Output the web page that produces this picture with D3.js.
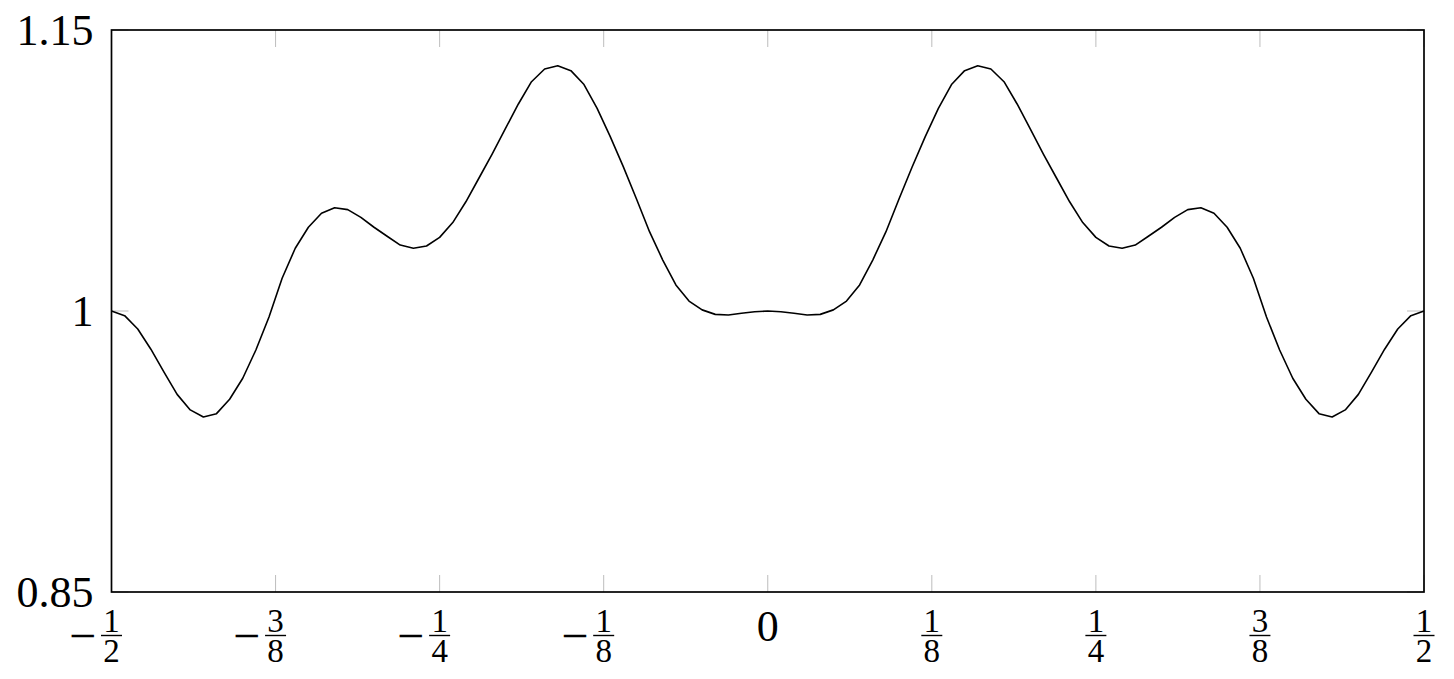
<!DOCTYPE html>
<html>
<head>
<meta charset="utf-8">
<script src="https://cdn.jsdelivr.net/npm/d3@7"></script>
<style>
body { margin: 0; background: #fff; }
text { font-family: "Liberation Serif", "DejaVu Serif", serif; fill: #000; }
</style>
</head>
<body>
<svg id="chart" width="1454" height="679"></svg>
<script>
// sample points (step 1/100)
xValues = [-0.50, -0.49, -0.48, -0.47, -0.46, -0.45, -0.44, -0.43, -0.42, -0.41,
	-0.40, -0.39, -0.38, -0.37, -0.36, -0.35, -0.34, -0.33, -0.32, -0.31,
	-0.30, -0.29, -0.28, -0.27, -0.26, -0.25, -0.24, -0.23, -0.22, -0.21,
	-0.20, -0.19, -0.18, -0.17, -0.16, -0.15, -0.14, -0.13, -0.12, -0.11,
	-0.10, -0.09, -0.08, -0.07, -0.06, -0.05, -0.04, -0.03, -0.02, -0.01,
	0.00, 0.01, 0.02, 0.03, 0.04, 0.05, 0.06, 0.07, 0.08, 0.09,
	0.10, 0.11, 0.12, 0.13, 0.14, 0.15, 0.16, 0.17, 0.18, 0.19,
	0.20, 0.21, 0.22, 0.23, 0.24, 0.25, 0.26, 0.27, 0.28, 0.29,
	0.30, 0.31, 0.32, 0.33, 0.34, 0.35, 0.36, 0.37, 0.38, 0.39,
	0.40, 0.41, 0.42, 0.43, 0.44, 0.45, 0.46, 0.47, 0.48, 0.49, 0.50]

yValues = [1.0000, 0.9975, 0.9904, 0.9796, 0.9674, 0.9555, 0.9472, 0.9434, 0.9452, 0.9529,
	0.9641, 0.9792, 0.9968, 1.0175, 1.0335, 1.0447, 1.0522, 1.0551, 1.0541, 1.0500,
	1.0447, 1.0399, 1.0352, 1.0335, 1.0347, 1.0393, 1.0472, 1.0583, 1.0710, 1.0838,
	1.0972, 1.1105, 1.1224, 1.1292, 1.1309, 1.1283, 1.1209, 1.1082, 1.0931, 1.0769,
	1.0598, 1.0422, 1.0272, 1.0139, 1.0053, 1.0006, 0.9982, 0.9979, 0.9988, 0.9996,
	1.0000,
	0.9996, 0.9988, 0.9979, 0.9982, 1.0006, 1.0053, 1.0139, 1.0272, 1.0422, 1.0598,
	1.0769, 1.0931, 1.1082, 1.1209, 1.1283, 1.1309, 1.1292, 1.1224, 1.1105, 1.0972,
	1.0838, 1.0710, 1.0583, 1.0472, 1.0393, 1.0347, 1.0335, 1.0352, 1.0399, 1.0447,
	1.0500, 1.0541, 1.0551, 1.0522, 1.0447, 1.0335, 1.0175, 0.9968, 0.9792, 0.9641,
	0.9529, 0.9452, 0.9434, 0.9472, 0.9555, 0.9674, 0.9796, 0.9904, 0.9975, 1.0000]

xTicks = [-0.5, -0.375, -0.25, -0.125, 0, 0.125, 0.25, 0.375, 0.5]
// [sign, numerator, denominator] ; null numerator means plain "0"
xTickLabels = [['−', '1', '2'], ['−', '3', '8'], ['−', '1', '4'], ['−', '1', '8'],
	['', null, '0'], ['', '1', '8'], ['', '1', '4'], ['', '3', '8'], ['', '1', '2']]
yTicks = [0.85, 1, 1.15]
yTickLabels = ['0.85', '1', '1.15']

// note: "top" is taken by window.top, so prefix everything
plotLeft = 111.5
plotRight = 1424
plotTop = 30
plotBottom = 592

svg = d3.select('#chart')

xScale = d3.scaleLinear().domain([-0.5, 0.5]).range([plotLeft, plotRight])
yScale = d3.scaleLinear().domain([0.85, 1.15]).range([plotBottom, plotTop])

data = xValues.map((x, i) => ({ x: x, y: yValues[i] }))

tickColor = '#bdbdbd'
tickLen = 17

// grey inner ticks, bottom/top/left/right
ticks = svg.append('g').attr('class', 'ticks')
ticks.selectAll('.xb')
	.data(xTicks)
	.enter()
	.append('line')
	.attr('x1', d => xScale(d)).attr('x2', d => xScale(d))
	.attr('y1', plotBottom).attr('y2', plotBottom - tickLen)
	.style('stroke', tickColor).attr('stroke-width', 1)
ticks.selectAll('.xt')
	.data(xTicks)
	.enter()
	.append('line')
	.attr('x1', d => xScale(d)).attr('x2', d => xScale(d))
	.attr('y1', plotTop).attr('y2', plotTop + tickLen)
	.style('stroke', tickColor).attr('stroke-width', 1)
ticks.selectAll('.yl')
	.data(yTicks)
	.enter()
	.append('line')
	.attr('x1', plotLeft).attr('x2', plotLeft + tickLen)
	.attr('y1', d => yScale(d)).attr('y2', d => yScale(d))
	.style('stroke', tickColor).attr('stroke-width', 1)
ticks.selectAll('.yr')
	.data(yTicks)
	.enter()
	.append('line')
	.attr('x1', plotRight).attr('x2', plotRight - tickLen)
	.attr('y1', d => yScale(d)).attr('y2', d => yScale(d))
	.style('stroke', tickColor).attr('stroke-width', 1)

// the curve
line = d3.line()
	.x(d => xScale(d.x))
	.y(d => yScale(d.y))
svg.append('path')
	.datum(data)
	.attr('d', line)
	.style('fill', 'none')
	.style('stroke', '#000')
	.attr('stroke-width', 1.6)
	.attr('stroke-linejoin', 'round')

// frame
svg.append('rect')
	.attr('x', plotLeft).attr('y', plotTop)
	.attr('width', plotRight - plotLeft).attr('height', plotBottom - plotTop)
	.style('fill', 'none')
	.style('stroke', '#000')
	.attr('stroke-width', 1.7)

// y labels
svg.selectAll('.ylabel')
	.data(yTicks)
	.enter()
	.append('text')
	.attr('class', 'ylabel')
	.attr('x', plotLeft - 18)
	.attr('y', d => yScale(d) + 15)
	.attr('text-anchor', 'end')
	.attr('font-size', 44)
	.text((d, i) => yTickLabels[i])

// x labels: one text per tick, fraction centred on tick, minus hanging left
xl = svg.selectAll('.xlabel')
	.data(xTicks)
	.enter()
	.append('g')
	.attr('class', 'xlabel')
	.attr('transform', d => 'translate(' + xScale(d) + ',0)')
xl.each(function (d, i) {
	g = d3.select(this)
	lab = xTickLabels[i]
	if (lab[1] == null) {
		g.append('text')
			.attr('x', 0).attr('y', 641)
			.attr('text-anchor', 'middle')
			.attr('font-size', 44)
			.text(lab[2])
		return
	}
	g.append('line')
		.attr('x1', -10.5).attr('x2', 10.5)
		.attr('y1', 635.5).attr('y2', 635.5)
		.style('stroke', '#000').attr('stroke-width', 1.4)
	t = g.append('text')
		.attr('text-anchor', 'middle')
		.attr('font-size', 33)
	if (lab[0] != '') {
		t.append('tspan')
			.attr('x', -29).attr('y', 652)
			.attr('font-size', 48)
			.text(lab[0])
	}
	t.append('tspan')
		.attr('x', 0).attr('y', 631.5)
		.text(lab[1])
	t.append('tspan')
		.attr('x', 0).attr('y', 662)
		.text(lab[2])
})
</script>
</body>
</html>
